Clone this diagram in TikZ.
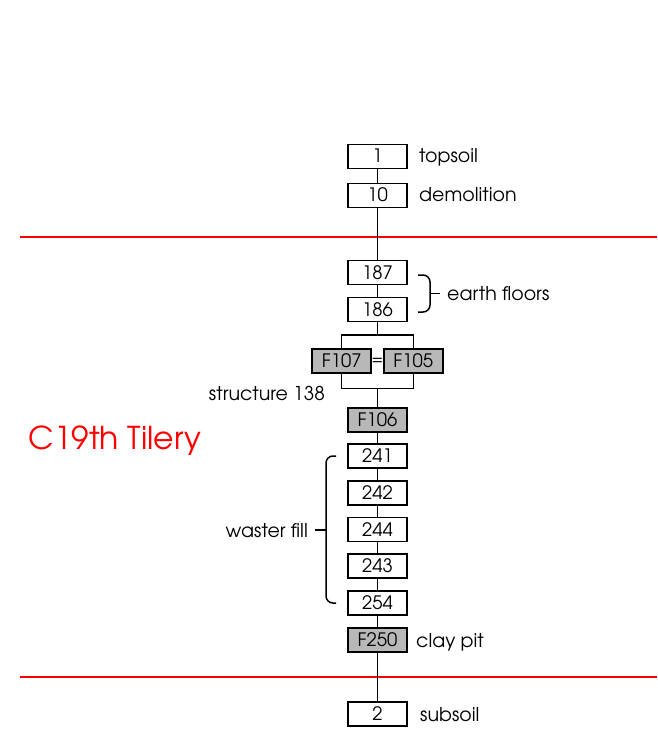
\documentclass[tikz,border=0pt]{standalone}
\usepackage{fontspec}
\setmainfont{TeX Gyre Adventor}
\begin{document}
\begin{tikzpicture}[x=1pt,y=-1pt,
  box/.style={draw,line width=1.6pt,minimum width=59pt,minimum height=24pt,inner sep=0pt,
    text height=13pt,text depth=0pt,font=\fontsize{18.5}{18.5}\selectfont},
  fbox/.style={box,fill=black!28},
  lbl/.style={inner sep=0pt,text height=13pt,text depth=0pt,font=\fontsize{19}{19}\selectfont},
  conn/.style={line width=1.5pt},
  brace/.style={line width=1.5pt,rounded corners=7pt},
  period/.style={red,line width=2pt}]
\useasboundingbox (0,0) rectangle (657,735);
% period lines
\draw[period] (20,236.5) -- (657,236.5);
\draw[period] (20,677) -- (657,677);
% boxes
\node[box] (n1) at (377.5,156.5) {1};
\node[box] (n10) at (377.5,195.5) {10};
\node[box] (n187) at (377.5,272.5) {187};
\node[box] (n186) at (377.5,309.5) {186};
\node[fbox] (f107) at (341.7,361) {F107};
\node[fbox] (f105) at (413.3,361) {F105};
\node[inner sep=0pt,font=\fontsize{16}{16}\selectfont] (eq) at (377.5,361) {=};
\node[fbox] (f106) at (377.5,420) {F106};
\node[box] (n241) at (377.5,456) {241};
\node[box] (n242) at (377.5,493) {242};
\node[box] (n244) at (377.5,529.5) {244};
\node[box] (n243) at (377.5,566) {243};
\node[box] (n254) at (377.5,603) {254};
\node[fbox] (f250) at (377.5,640) {F250};
\node[box] (n2) at (377.5,714) {2};
% connectors
\coordinate (sTop) at (377.5,335);
\coordinate (sBot) at (377.5,388.3);
\draw[conn] (n1) -- (n10);
\draw[conn] (n10) -- (n187);
\draw[conn] (n187) -- (n186);
\draw[conn] (n186) -- (sTop);
\draw[conn] (f107.north) |- (sTop) -| (f105.north);
\draw[conn] (f107.south) |- (sBot) -| (f105.south);
\draw[conn] (sBot) -- (f106);
\draw[conn] (f106) -- (n241);
\draw[conn] (n241) -- (n242);
\draw[conn] (n242) -- (n244);
\draw[conn] (n244) -- (n243);
\draw[conn] (n243) -- (n254);
\draw[conn] (n254) -- (f250);
\draw[conn] (f250) -- (n2);
% braces
\draw[brace] (418,275) -| (430,312) -- (418,312);
\draw[conn] (430,293.5) -- (440,293.5);
\draw[brace] (336,456) -| (326,603) -- (336,603);
\draw[conn] (326,530) -- (315,530);
% labels
\node[lbl,anchor=west] (ltop) at (419,156.5) {topsoil};
\node[lbl,anchor=west] (ldem) at (419,195.5) {demolition};
\node[lbl,anchor=west] (learth) at (447,294) {earth floors};
\node[lbl,anchor=east] (lstruct) at (325,393.5) {structure 138};
\node[lbl,anchor=east] (lwaster) at (308,530.5) {waster fill};
\node[lbl,anchor=west] (lclay) at (416,640.5) {clay pit};
\node[lbl,anchor=west] (lsub) at (420,714.5) {subsoil};
\node[red,inner sep=0pt,font=\fontsize{31.5}{31.5}\selectfont] (title) at (115,440.5) {C19th Tilery};
\end{tikzpicture}
\end{document}
